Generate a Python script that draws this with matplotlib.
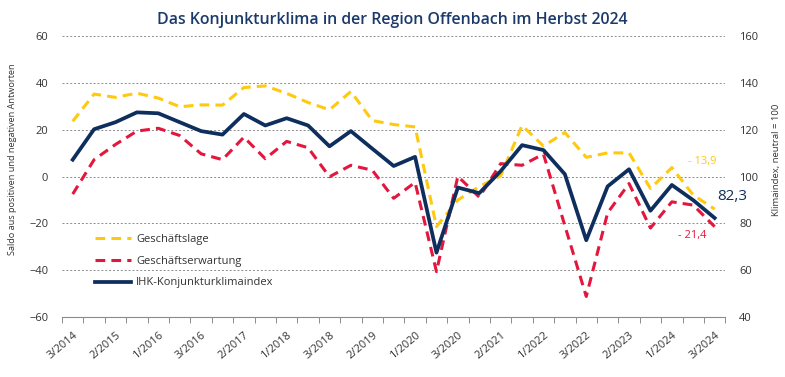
import numpy as np
import matplotlib
matplotlib.use("Agg")
import matplotlib.pyplot as plt

# Umfragezeitpunkte (1 = Jahresbeginn, 2 = Frühsommer, 3 = Herbst)
quarters = ["3/2014", "1/2015", "2/2015", "3/2015", "1/2016", "2/2016", "3/2016",
            "1/2017", "2/2017", "3/2017", "1/2018", "2/2018", "3/2018", "1/2019",
            "2/2019", "3/2019", "1/2020", "2/2020", "3/2020", "1/2021", "2/2021",
            "3/2021", "1/2022", "2/2022", "3/2022", "1/2023", "2/2023", "3/2023",
            "1/2024", "2/2024", "3/2024"]

# Salden (linke Achse)
lage = [23.6, 35.2, 33.8, 35.6, 33.5, 29.8, 30.6, 30.5, 38.0, 38.7, 35.5, 31.6, 28.5,
        36.3, 23.9, 22.2, 21.2, -21.4, -10.0, -4.3, 0.3, 21.8, 13.0, 18.8, 8.2, 10.1,
        10.1, -5.1, 3.8, -7.9, -13.9]
erwartung = [-7.5, 7.2, 13.7, 19.4, 20.6, 17.5, 9.7, 7.2, 16.8, 7.6, 15.0, 12.3, -0.1,
             4.8, 2.7, -9.3, -2.5, -40.6, 0.1, -8.8, 5.5, 4.8, 9.6, -21.0, -51.2, -15.5,
             -3.0, -22.0, -10.8, -12.2, -21.4]

# Klimaindex (rechte Achse, neutral = 100)
klima = [107.2, 120.2, 123.2, 127.4, 127.0, 123.2, 119.4, 117.9, 126.7, 121.8, 124.9,
         121.8, 112.9, 119.4, 111.9, 104.5, 108.4, 67.5, 95.3, 92.9, 102.3, 113.4, 111.3,
         101.0, 72.8, 95.8, 103.1, 85.4, 96.4, 89.9, 82.3]

YELLOW = "#FFC90E"
RED = "#E3173E"
NAVY = "#0E2F5E"
TXT = "#333333"

plt.rcParams["font.family"] = ["Open Sans", "DejaVu Sans"]

fig = plt.figure(figsize=(7.85, 3.77), dpi=100)
ax = fig.add_axes([0.079, 0.159, 0.845, 0.7455])
ax2 = ax.twinx()

x = np.arange(len(quarters))

ax.plot(x, lage, color=YELLOW, lw=2.2, dashes=(3.2, 2.0), label="Geschäftslage")
ax.plot(x, erwartung, color=RED, lw=2.2, dashes=(3.2, 2.0), label="Geschäftserwartung")
ax2.plot(x, klima, color=NAVY, lw=2.7, solid_joinstyle="round", label="IHK-Konjunkturklimaindex")

ax.set_xlim(-0.5, len(quarters) - 0.5)
ax.set_ylim(-60, 60)
ax2.set_ylim(40, 160)

# Gitterlinien
for v in range(-40, 61, 20):
    ax.axhline(v, color="#8c8c8c", lw=0.7, ls=(0, (2, 2)), zorder=0)

for a in (ax, ax2):
    for s in ("top", "left", "right"):
        a.spines[s].set_visible(False)
ax.spines["bottom"].set_color("#8c8c8c")
ax2.spines["bottom"].set_visible(False)

ax.set_yticks(range(-60, 61, 20))
ax2.set_yticks(range(40, 161, 20))
ax.tick_params(axis="y", length=0, labelsize=8, labelcolor=TXT, pad=10)
ax2.tick_params(axis="y", length=0, labelsize=8, labelcolor=TXT, pad=10)

ax.set_xticks(x[::2])
ax.set_xticklabels(quarters[::2], rotation=40, ha="right", va="top",
                   rotation_mode="anchor", fontsize=8, color=TXT)
ax.set_xticks(np.arange(-0.5, len(quarters), 1), minor=True)
ax.tick_params(axis="x", which="major", length=0, pad=9)
ax.tick_params(axis="x", which="minor", length=4, color="#8c8c8c", width=0.7)

ax.set_ylabel("Saldo aus positiven und negativen Antworten", fontsize=6.6, color=TXT)
ax2.set_ylabel("Klimaindex, neutral = 100", fontsize=6.8, color=TXT)
ax.yaxis.set_label_coords(-0.068, 0.56)
ax2.yaxis.set_label_coords(1.071, 0.56)

# Endwerte
ax.text(28.75, 6.5, "- 13,9", color=YELLOW, fontsize=8, ha="left", va="center")
ax.text(30.1, -8.5, "82,3", color=NAVY, fontsize=11, ha="left", va="center")
ax.text(28.3, -25.3, "- 21,4", color=RED, fontsize=8, ha="left", va="center")

h1, l1 = ax.get_legend_handles_labels()
h2, l2 = ax2.get_legend_handles_labels()
ax.legend(h1 + h2, l1 + l2, loc="upper left", bbox_to_anchor=(0.035, 0.33),
          frameon=False, fontsize=8, handlelength=3.2, labelspacing=0.95,
          handletextpad=0.5, labelcolor=TXT)

fig.suptitle("Das Konjunkturklima in der Region Offenbach im Herbst 2024",
             x=0.5, y=0.968, fontsize=11.4, fontweight="semibold", color="#1B3A6B")

fig.savefig("out.png", dpi=100)
